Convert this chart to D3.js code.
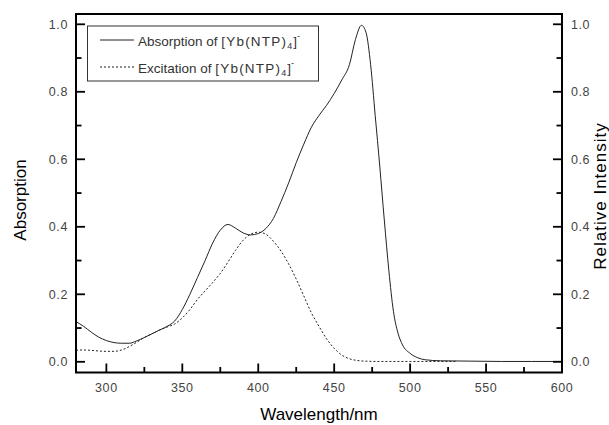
<!DOCTYPE html>
<html>
<head>
<meta charset="utf-8">
<script src="https://cdn.jsdelivr.net/npm/d3@7"></script>
<style>
  html, body { margin: 0; padding: 0; background: #fff; }
  svg { display: block; font-family: "Liberation Sans", Arial, sans-serif; }
</style>
</head>
<body>
<svg id="chart" width="609" height="425"></svg>
<script>
// Absorption spectrum of [Yb(NTP)4]- (left axis)
const absWavelength = [280, 285, 290, 295, 300, 305, 310, 315, 320, 325, 330, 335, 340, 345, 350, 355, 360, 365, 370, 375, 380, 385, 390, 395, 400, 405, 410, 415, 420, 425, 430, 435, 440, 445, 450, 455, 460, 464, 468, 471, 474, 477, 480, 483, 486, 489, 492, 495, 500, 505, 510, 520, 540, 560, 580, 600];
const absValue = [0.119, 0.105, 0.088, 0.073, 0.063, 0.057, 0.055, 0.055, 0.062, 0.072, 0.083, 0.094, 0.105, 0.121, 0.155, 0.200, 0.250, 0.300, 0.352, 0.390, 0.407, 0.396, 0.382, 0.376, 0.380, 0.395, 0.425, 0.475, 0.530, 0.590, 0.645, 0.695, 0.730, 0.760, 0.795, 0.835, 0.880, 0.955, 0.997, 0.975, 0.880, 0.730, 0.580, 0.420, 0.270, 0.150, 0.085, 0.050, 0.025, 0.012, 0.006, 0.003, 0.002, 0.001, 0.001, 0.001];

// Excitation spectrum of [Yb(NTP)4]- (right axis, relative intensity)
const excWavelength = [280, 285, 290, 295, 300, 305, 310, 315, 320, 325, 330, 335, 340, 345, 350, 355, 360, 365, 370, 375, 380, 385, 390, 395, 400, 405, 410, 415, 420, 425, 430, 435, 440, 445, 450, 455, 460, 465, 470, 480, 500, 530];
const excValue = [0.034, 0.035, 0.034, 0.032, 0.031, 0.031, 0.035, 0.045, 0.058, 0.072, 0.083, 0.094, 0.103, 0.112, 0.130, 0.155, 0.185, 0.210, 0.235, 0.262, 0.295, 0.330, 0.360, 0.378, 0.384, 0.378, 0.357, 0.328, 0.290, 0.245, 0.195, 0.145, 0.105, 0.068, 0.040, 0.020, 0.009, 0.004, 0.002, 0.001, 0.001, 0.001];

const xTicks = [300, 350, 400, 450, 500, 550, 600];
const xMinorTicks = [325, 375, 425, 475, 525, 575];
const yTicks = [0.0, 0.2, 0.4, 0.6, 0.8, 1.0];
const yMinorTicks = [0.1, 0.3, 0.5, 0.7, 0.9];

const svg = d3.select("#chart");
const plotLeft = 76, plotRight = 562, plotTop = 14, plotBottom = 372.5;
const majorLen = 9, minorLen = 5.5, tickW = 1.8;

const x = d3.scaleLinear().domain([280, 600]).range([plotLeft, plotRight]);
const y = d3.scaleLinear().domain([-0.0317, 1.0305]).range([plotBottom, plotTop]);
const y2 = d3.scaleLinear().domain([-0.0317, 1.0305]).range([plotBottom, plotTop]);

const labelColor = "#444";
const fmt = d3.format(".1f");

// Tick labels
const labels = svg.append("g").attr("fill", labelColor)
  .style("font-size", "12.5px").style("letter-spacing", "0.6px");
labels.selectAll("text.xl").data(xTicks).join("text")
  .attr("x", d => x(d)).attr("y", 392)
  .attr("text-anchor", "middle").text(d3.format("d"));
labels.selectAll("text.yl").data(yTicks).join("text")
  .attr("x", 68).attr("y", d => y(d) + 4.5)
  .attr("text-anchor", "end").text(fmt);
labels.selectAll("text.y2l").data(yTicks).join("text")
  .attr("x", 571).attr("y", d => y2(d) + 4.5)
  .attr("text-anchor", "start").text(fmt);

const lineAbs = d3.line()
  .x((d, i) => x(absWavelength[i]))
  .y(d => y(d))
  .curve(d3.curveMonotoneX);
const lineExc = d3.line()
  .x((d, i) => x(excWavelength[i]))
  .y(d => y2(d))
  .curve(d3.curveMonotoneX);

svg.append("path").datum(excValue)
  .attr("d", lineExc)
  .attr("fill", "none").attr("stroke", "#222").attr("stroke-width", 1)
  .attr("stroke-dasharray", "2,2");

svg.append("path").datum(absValue)
  .attr("d", lineAbs)
  .attr("fill", "none").attr("stroke", "#222").attr("stroke-width", 1);

// Frame
svg.append("rect")
  .attr("x", plotLeft).attr("y", plotTop)
  .attr("width", plotRight - plotLeft).attr("height", plotBottom - plotTop)
  .attr("fill", "none").attr("stroke", "#000").attr("stroke-width", 2);

// Inward tick marks drawn as small filled bars
const tg = svg.append("g").attr("fill", "#000");
const xTickData = xTicks.map(v => ({ v, len: majorLen })).concat(xMinorTicks.map(v => ({ v, len: minorLen })));
const yTickData = yTicks.map(v => ({ v, len: majorLen })).concat(yMinorTicks.map(v => ({ v, len: minorLen })));
tg.selectAll("rect.tx").data(xTickData).join("rect").attr("class", "tx")
  .attr("x", d => x(d.v) - tickW / 2).attr("y", d => plotBottom - d.len)
  .attr("width", tickW).attr("height", d => d.len);
tg.selectAll("rect.tl").data(yTickData).join("rect").attr("class", "tl")
  .attr("x", plotLeft).attr("y", d => y(d.v) - tickW / 2)
  .attr("width", d => d.len).attr("height", tickW);
tg.selectAll("rect.tr").data(yTickData).join("rect").attr("class", "tr")
  .attr("x", d => plotRight - d.len).attr("y", d => y2(d.v) - tickW / 2)
  .attr("width", d => d.len).attr("height", tickW);

// Legend
const lg = svg.append("g");
lg.append("rect").attr("x", 87.5).attr("y", 26).attr("width", 231).attr("height", 55)
  .attr("fill", "#fff").attr("stroke", "#333").attr("stroke-width", 1);

const legendRows = [
  { name: "Absorption of ", dash: null, y: 40 },
  { name: "Excitation of ", dash: "2,2", y: 67 }
];
legendRows.forEach(r => {
  lg.append("line").attr("x1", 100).attr("x2", 134).attr("y1", r.y).attr("y2", r.y)
    .attr("stroke", "#222").attr("stroke-width", 1)
    .attr("stroke-dasharray", r.dash);
  const t = lg.append("text").attr("x", 138).attr("y", r.y + 5.5)
    .attr("fill", "#333").style("font-size", "13.5px");
  t.append("tspan").text(r.name);
  t.append("tspan").style("letter-spacing", "1.2px").text("[Yb(NTP)");
  t.append("tspan").attr("dy", 3.5).style("font-size", "9px").text("4");
  t.append("tspan").attr("dy", -3.5).attr("dx", 1).text("]");
  t.append("tspan").attr("dy", -7).style("font-size", "9px").text("-");
});

// Axis titles
svg.append("text").attr("x", 319).attr("y", 420)
  .attr("text-anchor", "middle").style("font-size", "17px").attr("fill", "#000")
  .text("Wavelength/nm");
svg.append("text").attr("transform", "translate(25.5,200) rotate(-90)")
  .attr("text-anchor", "middle").style("font-size", "17px").attr("fill", "#000")
  .text("Absorption");
svg.append("text").attr("transform", "translate(606,196) rotate(-90)")
  .attr("text-anchor", "middle").style("font-size", "17px").attr("fill", "#000")
  .style("letter-spacing", "1px")
  .text("Relative Intensity");
</script>
</body>
</html>
